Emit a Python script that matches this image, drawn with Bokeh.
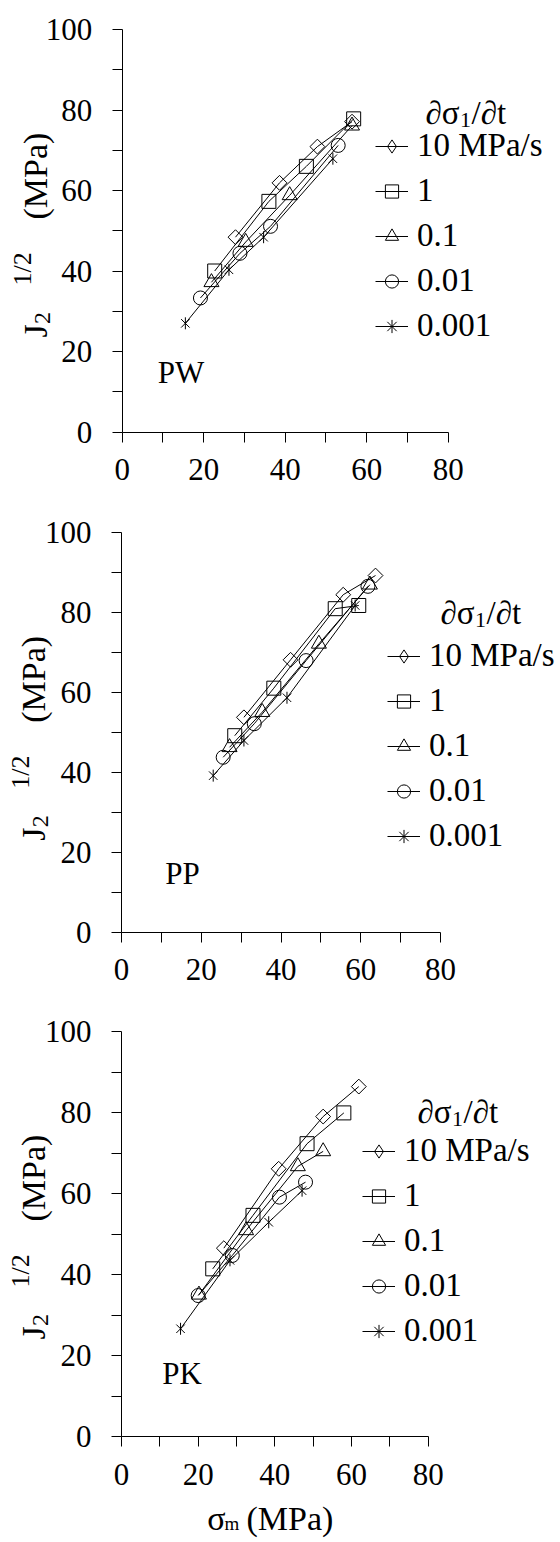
import math
from bokeh.plotting import figure
from bokeh.models import FixedTicker, Range1d, Label, Legend, LegendItem
from bokeh.layouts import column
from bokeh.embed import file_html
from bokeh.resources import INLINE

FONT = "Liberation Serif"

# ---------------- data ----------------
rate_labels = ["10 MPa/s", "1", "0.1", "0.01", "0.001"]
panel_names = ["PW", "PP", "PK"]
x_ticks = [0, 20, 40, 60, 80]
x_minor = [10, 30, 50, 70]
y_ticks = [0, 20, 40, 60, 80, 100]
y_minor = [10, 30, 50, 70, 90]

# PW  (sigma_m, J2^1/2)
pw_r10_x = [27.8, 38.6, 47.9, 56.4]
pw_r10_y = [48.4, 61.9, 70.9, 77.1]
pw_r1_x = [22.7, 36.0, 45.2, 56.8]
pw_r1_y = [40.0, 57.3, 66.0, 77.8]
pw_r01_x = [21.9, 30.3, 41.1, 56.4]
pw_r01_y = [37.2, 47.2, 58.8, 76.1]
pw_r001_x = [19.2, 28.9, 36.4, 53.0]
pw_r001_y = [33.3, 44.4, 51.1, 71.2]
pw_r0001_x = [15.5, 26.2, 34.7, 51.7]
pw_r0001_y = [27.0, 40.3, 48.4, 67.9]

# PP
pp_r10_x = [30.7, 42.4, 55.6, 63.7]
pp_r10_y = [53.8, 68.2, 84.5, 89.3]
pp_r1_x = [28.4, 38.2, 53.6, 59.5]
pp_r1_y = [49.2, 61.1, 81.0, 81.8]
pp_r01_x = [27.1, 35.3, 49.5, 62.3]
pp_r01_y = [46.3, 55.1, 72.2, 87.0]
pp_r001_x = [25.5, 33.3, 46.3, 61.8]
pp_r001_y = [43.8, 52.2, 68.0, 86.6]
pp_r0001_x = [23.0, 30.7, 41.5, 58.6]
pp_r0001_y = [39.2, 48.0, 58.7, 81.8]

# PK
pk_r10_x = [26.7, 41.0, 52.6, 61.9]
pk_r10_y = [46.5, 66.1, 79.0, 86.4]
pk_r1_x = [23.8, 34.3, 48.4, 58.0]
pk_r1_y = [41.4, 54.6, 72.3, 79.9]
pk_r01_x = [20.2, 32.5, 46.0, 52.6]
pk_r01_y = [35.0, 50.9, 66.7, 70.4]
pk_r001_x = [20.0, 28.9, 41.2, 48.0]
pk_r001_y = [34.8, 44.7, 59.1, 62.8]
pk_r0001_x = [15.4, 28.3, 38.4, 47.1]
pk_r0001_y = [26.6, 43.5, 52.9, 60.7]

panels_x = [
    [pw_r10_x, pw_r1_x, pw_r01_x, pw_r001_x, pw_r0001_x],
    [pp_r10_x, pp_r1_x, pp_r01_x, pp_r001_x, pp_r0001_x],
    [pk_r10_x, pk_r1_x, pk_r01_x, pk_r001_x, pk_r0001_x],
]
panels_y = [
    [pw_r10_y, pw_r1_y, pw_r01_y, pw_r001_y, pw_r0001_y],
    [pp_r10_y, pp_r1_y, pp_r01_y, pp_r001_y, pp_r0001_y],
    [pk_r10_y, pk_r1_y, pk_r01_y, pk_r001_y, pk_r0001_y],
]

# ---------------- layout / styles ----------------
W = 560
FIX = 11   # correction for where the text baseline lands
# (axis-0 x px, axis width px, top px of y=100, axis height px, panel height)
GEOM = [
    (121.7, 326.0, 29.0, 402.5, 500),
    (121.0, 319.0, 32.3, 399.4, 500),
    (121.0, 306.7, 31.0, 405.0, 542),
]
LEG_X = [375, 387, 362]          # legend glyph left (panel px)
LEG_C0 = [150, 160, 155]         # first legend row centre (panel px)
TITLE_X = [425, 440, 417]        # legend title left (panel px)
TITLE_BASE = [123, 123, 122]     # legend title baseline
YT_BASE_X = [46, 44, 44]         # y-title baseline x
NAME_POS = [(8.7, 383), (11.0, 884), (10.6, 1384)]   # x data, baseline page px

TICK_FS = "31px"
LEG_FS = "33px"
TITLE_FS = 34
SUB_FS = 24
SUP_FS = 26


def make_panel(k, show_xtitle, y_off):
    x0, aw, top, ah, H = GEOM[k]
    sx = aw / 80.0
    sy = ah / 100.0
    xr = Range1d(-x0 / sx, (W - x0) / sx)
    yr = Range1d(-(H - top - ah) / sy, (top + ah) / sy)
    p = figure(frame_width=W, frame_height=H,
               min_border_left=0, min_border_right=0,
               min_border_top=0, min_border_bottom=0, min_border=0,
               x_range=xr, y_range=yr,
               output_backend="svg", toolbar_location=None,
               outline_line_color=None, border_fill_color="white",
               background_fill_color="white")
    p.grid.visible = False
    p.xaxis.ticker = FixedTicker(ticks=x_ticks, minor_ticks=x_minor)
    p.yaxis.ticker = FixedTicker(ticks=y_ticks, minor_ticks=y_minor)
    p.xaxis.fixed_location = 0
    p.yaxis.fixed_location = 0
    p.xaxis.bounds = (0, 80)
    p.yaxis.bounds = (0, 100)
    for ax in (p.xaxis[0], p.yaxis[0]):
        ax.axis_line_color = "black"
        ax.axis_line_width = 1
        ax.major_tick_line_color = "black"
        ax.minor_tick_line_color = "black"
        ax.major_tick_out = 10
        ax.major_tick_in = 0
        ax.minor_tick_out = 10
        ax.minor_tick_in = 0
        ax.major_label_text_font = FONT
        ax.major_label_text_font_size = TICK_FS
        ax.major_label_text_color = "black"
    p.xaxis.major_label_standoff = 17
    p.yaxis.major_label_standoff = 20

    def text(X, Y, s, size, angle=0.0):
        if angle == 0.0:
            Y = Y - FIX
        else:
            X = X - FIX
        p.add_layout(Label(x=X, y=H - Y, x_units="screen", y_units="screen",
                           text=s, text_font=FONT, text_font_size=f"{size}px",
                           text_color="black", text_align="left",
                           text_baseline="alphabetic", angle=angle))

    xs, ys = panels_x[k], panels_y[k]
    items = []
    sty = dict(line_color="black", line_width=1, fill_color=None)
    for i in range(5):
        ln = p.line(xs[i], ys[i], line_color="black", line_width=1)
        if i == 0:
            p.scatter(xs[i], ys[i], marker="square", angle=math.pi / 4, size=10.5, **sty)
            leg = p.scatter(xs[i], ys[i], marker="diamond", size=14, visible=False, **sty)
        elif i == 1:
            leg = p.scatter(xs[i], ys[i], marker="square", size=14, **sty)
        elif i == 2:
            leg = p.scatter(xs[i], ys[i], marker="triangle", size=15, **sty)
        elif i == 3:
            leg = p.scatter(xs[i], ys[i], marker="circle", size=14, **sty)
        else:
            p.scatter(xs[i], ys[i], marker="x", size=12, **sty)
            p.scatter(xs[i], ys[i], marker="dash", angle=math.pi / 2, size=12, **sty)
            leg = p.scatter(xs[i], ys[i], marker="asterisk", size=12, visible=False, **sty)
        items.append(LegendItem(label=rate_labels[i], renderers=[ln, leg]))

    item_h, spacing = 36, 8
    leg_bottom = LEG_C0[k] - item_h / 2 + 5 * item_h + 4 * spacing
    legend = Legend(items=items, location=(LEG_X[k], H - leg_bottom),
                    label_text_font=FONT, label_text_font_size=LEG_FS,
                    label_text_color="black",
                    glyph_width=33, glyph_height=item_h, label_height=item_h,
                    spacing=spacing, padding=0, margin=0, label_standoff=9,
                    border_line_color=None, background_fill_alpha=0)
    p.add_layout(legend)

    # legend title  d(sigma_1)/dt
    tx, tb = TITLE_X[k], TITLE_BASE[k]
    text(tx, tb, "\u2202\u03c3", 33)
    text(tx + 34.5, tb + 7, "1", 22)
    text(tx + 46, tb, "/\u2202t", 33)

    # y-axis title  J2^(1/2) (MPa), rotated
    bx = YT_BASE_X[k]
    j_bottom = top + 308
    a = math.pi / 2
    text(bx, j_bottom, "J", TITLE_FS, a)
    text(bx + 7, j_bottom - 13.5, "2", SUB_FS, a)
    text(bx - 13, j_bottom - 52, "1/2", SUP_FS, a)
    text(bx, top + 103 + 87, "(MPa)", TITLE_FS, a)

    # panel name
    nx, nb = NAME_POS[k]
    text(x0 + nx * sx, nb - y_off, panel_names[k], 31)

    if show_xtitle:
        text(206.7, 529, "\u03c3", TITLE_FS)
        text(224, 534, "m", 19)
        text(246, 529, "(MPa)", TITLE_FS)
    return p


p1 = make_panel(0, False, 0)
p2 = make_panel(1, False, 500)
p3 = make_panel(2, True, 1000)
layout = column(p1, p2, p3, spacing=0)

open("out.html", "w").write(file_html(layout, INLINE))
